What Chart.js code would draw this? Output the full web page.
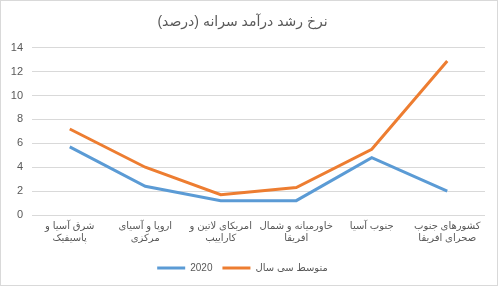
<!DOCTYPE html>
<html><head><meta charset="utf-8">
<script src="https://cdn.jsdelivr.net/npm/chart.js@4"></script>
<style>
html,body{margin:0;padding:0;background:#fff;}
#wrap{position:absolute;left:0;top:0;width:498px;height:286px;box-sizing:border-box;border:1px solid #d9d9d9;background:#fff;}
#c{position:absolute;left:0;top:0;}
</style></head>
<body>
<div id="wrap"></div>
<canvas id="c" width="499" height="289"></canvas>
<script>
const categories = [
  ["شرق آسیا و", "پاسیفیک"],
  ["اروپا و آسیای", "مرکزی"],
  ["امریکای لاتین و", "کاراییب"],
  ["خاورمیانه و شمال", "افریقا"],
  ["جنوب آسیا"],
  ["کشورهای جنوب", "صحرای افریقا"]
];
const series2020 = [5.7, 2.4, 1.2, 1.2, 4.8, 2.0];
const seriesAvg30 = [7.2, 4.0, 1.7, 2.3, 5.5, 12.9];
const seriesNames = ["2020", "متوسط سی سال"];
const titleText = "نرخ رشد درآمد سرانه (درصد)";

const FONT = '"Liberation Sans", "DejaVu Sans", sans-serif';
const GRAY = '#595959';

new Chart(document.getElementById('c'), {
  type: 'line',
  data: {
    labels: categories,
    datasets: [
      { label: seriesNames[0], data: series2020, borderColor: '#5b9bd5', backgroundColor: '#5b9bd5', borderWidth: 3, pointRadius: 0, tension: 0 },
      { label: seriesNames[1], data: seriesAvg30, borderColor: '#ed7d31', backgroundColor: '#ed7d31', borderWidth: 3, pointRadius: 0, tension: 0 }
    ]
  },
  options: {
    responsive: false,
    animation: false,
    devicePixelRatio: 1,
    layout: { padding: { left: 0, right: 14, top: 8, bottom: 6 } },
    plugins: {
      title: { display: true, text: titleText, color: GRAY, font: { family: FONT, size: 14, weight: 'normal' }, padding: { top: 6, bottom: 17 } },
      legend: {
        position: 'bottom',
        labels: {
          color: GRAY, font: { family: FONT, size: 10 }, boxWidth: 28, boxHeight: 3, padding: 10,
          generateLabels: function(chart) {
            return Chart.defaults.plugins.legend.labels.generateLabels(chart).map(l => Object.assign(l, { lineWidth: 0, fillStyle: l.strokeStyle }));
          }
        }
      },
      tooltip: { enabled: false }
    },
    scales: {
      x: {
        offset: true,
        grid: { display: false },
        border: { display: false },
        ticks: { color: GRAY, font: { family: FONT, size: 10 }, maxRotation: 0, autoSkip: false, padding: -3 },
        afterFit: function(s) { s.height = 38; }
      },
      y: {
        min: 0, max: 14,
        grid: { color: '#d9d9d9', drawTicks: false },
        border: { display: false },
        ticks: { stepSize: 2, color: GRAY, font: { family: FONT, size: 11 }, padding: 9 },
        afterFit: function(s) { s.width = 32; }
      }
    }
  }
});
</script>
</body></html>
